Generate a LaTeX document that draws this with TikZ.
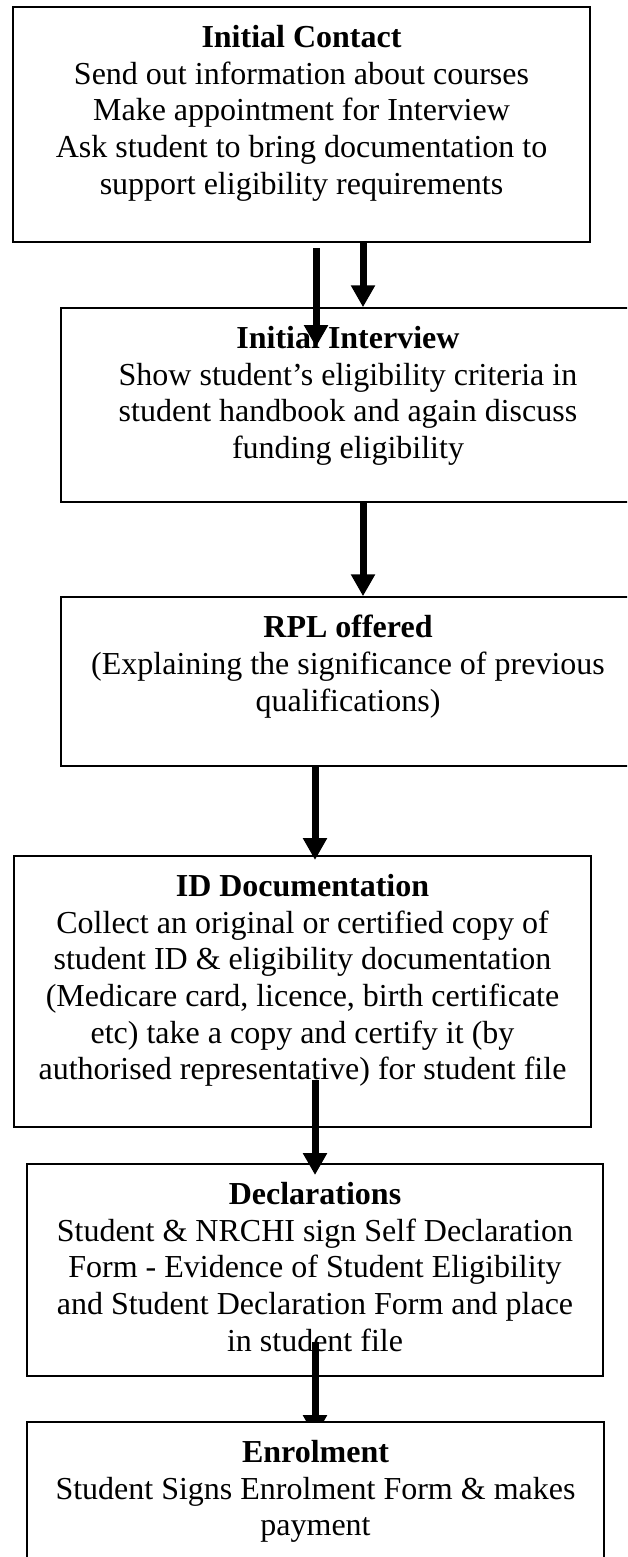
\documentclass[tikz,border=0pt]{standalone}
\usepackage{fontspec}
\setmainfont{Liberation Serif}
\usetikzlibrary{arrows.meta}
\begin{document}
\begin{tikzpicture}[x=1pt,y=-1pt,
  stepbox/.style={draw=black, line width=1.5pt, fill=white, inner sep=0pt, rectangle},
  txt/.style={anchor=north, align=center, inner sep=0pt, font=\fontsize{32}{36.7}\selectfont},
  arr/.style={line width=7pt, -{Triangle[width=23pt,length=22pt]}}]
\clip (0,0) rectangle (627,1557);
\fill[white] (0,0) rectangle (627,1557);
% boxes
\node[stepbox, minimum width=577pt, minimum height=235pt] (b1) at (301.5,124.5) {};
\node[stepbox, minimum width=574pt, minimum height=194pt] (b2) at (348,405) {};
\node[stepbox, minimum width=574pt, minimum height=169pt] (b3) at (348,681.5) {};
\node[stepbox, minimum width=577pt, minimum height=271pt] (b4) at (302.5,991.5) {};
\node[stepbox, minimum width=576pt, minimum height=212pt] (b5) at (315,1270) {};
% texts
\node[txt] (t1) at (301.5,25) {\textbf{Initial Contact}\\Send out information about courses\\Make appointment for Interview\\Ask student to bring documentation to\\support eligibility requirements};
\node[txt] (t2) at (348,326) {\textbf{Initial Interview}\\Show student’s eligibility criteria in\\student handbook and again discuss\\funding eligibility};
\node[txt] (t3) at (348,615) {\textbf{RPL offered}\\(Explaining the significance of previous\\qualifications)};
\node[txt] (t4) at (302.5,874) {\textbf{ID Documentation}\\Collect an original or certified copy of\\student ID \& eligibility documentation\\(Medicare card, licence, birth certificate\\etc) take a copy and certify it (by\\authorised representative) for student file};
\node[txt] (t5) at (315,1182) {\textbf{Declarations}\\Student \& NRCHI sign Self Declaration\\Form - Evidence of Student Eligibility\\and Student Declaration Form and place\\in student file};
% arrow anchors
\coordinate (cR) at (363,0);
\coordinate (cL) at (315,0);
\coordinate (a1s) at (316,248);
\coordinate (a1e) at (316,347);
\coordinate (a3e) at (315,860);
\coordinate (a4s) at (315,1080);
\coordinate (a4e) at (315,1175);
\coordinate (a5s) at (315,1342);
\coordinate (a5e) at (315,1437);
% connectors
\draw[arr] (a1s) -- (a1e);
\draw[arr] (b1.south -| cR) -- (b2.north -| cR);
\draw[arr] (b2.south -| cR) -- (b3.north -| cR);
\draw[arr] (b3.south -| cL) -- (a3e);
\draw[arr] (a4s) -- (a4e);
\draw[arr] (a5s) -- (a5e);
% last box drawn over the last arrow tip
\node[stepbox, minimum width=577pt, minimum height=178pt] (b6) at (315.5,1511) {};
\node[txt] (t6) at (315.5,1440) {\textbf{Enrolment}\\Student Signs Enrolment Form \& makes\\payment};
\end{tikzpicture}
\end{document}
